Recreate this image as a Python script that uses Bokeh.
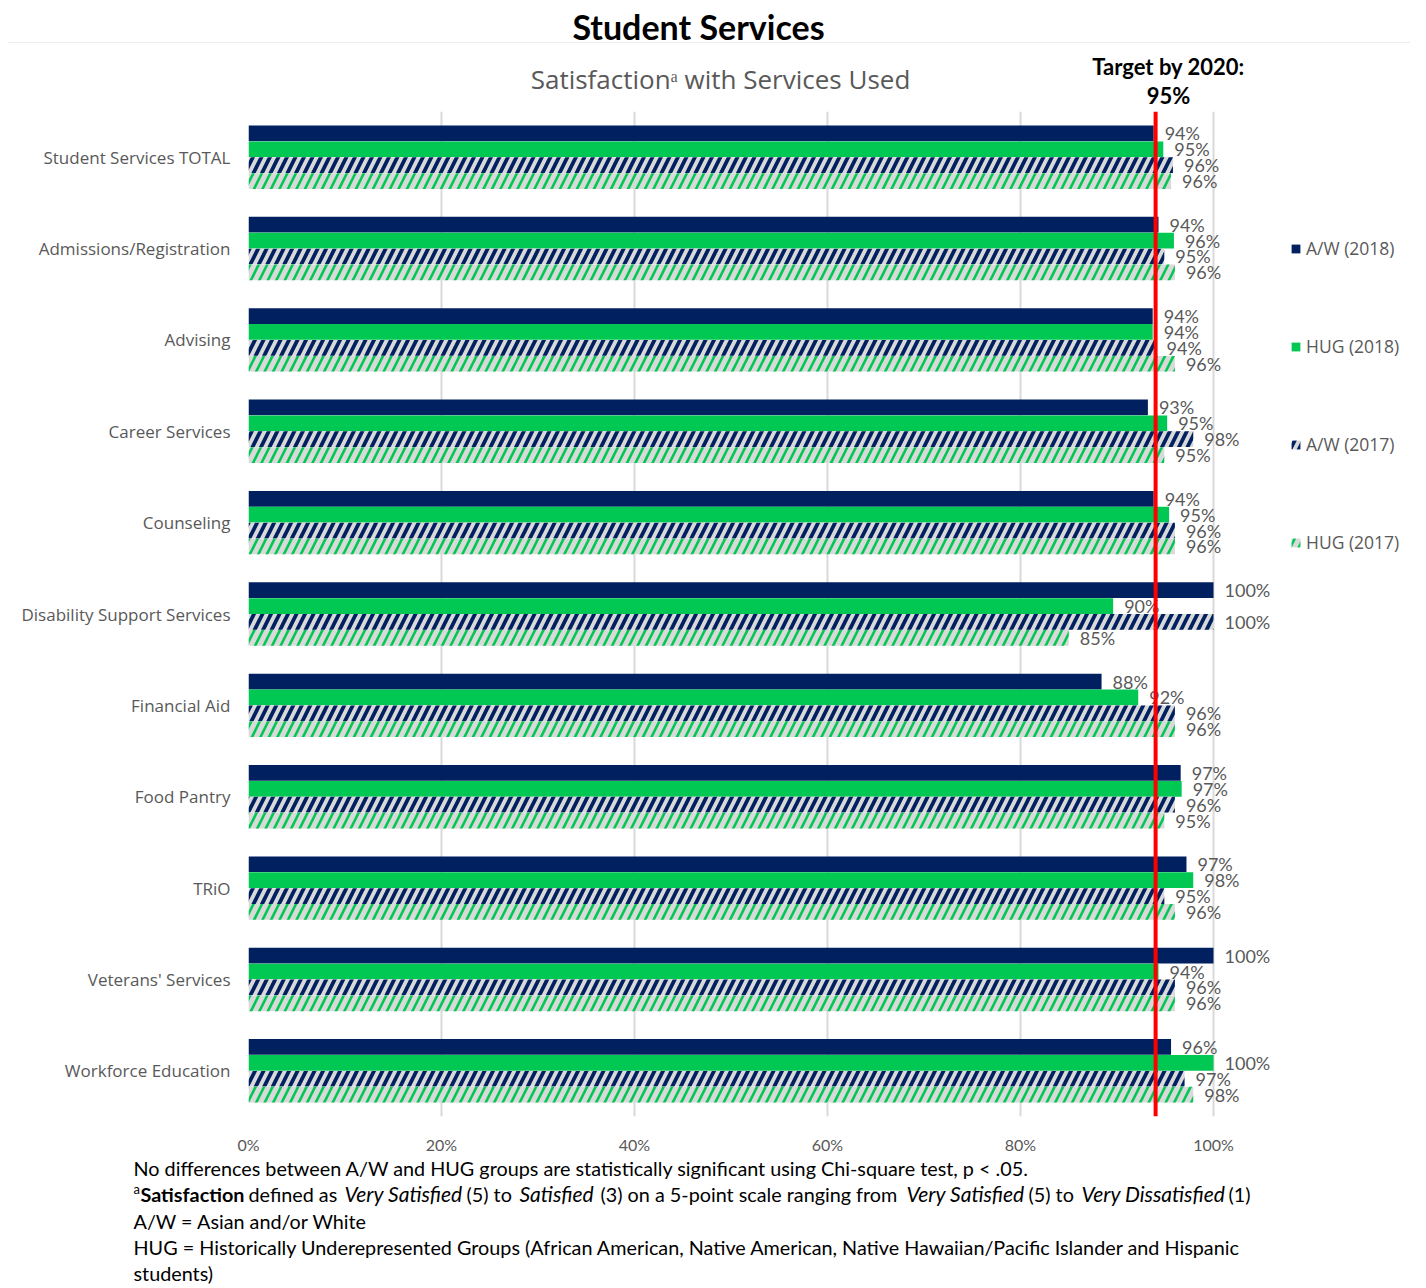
from bokeh.plotting import figure
from bokeh.models import (ColumnDataSource, FixedTicker, Range1d, Span, Label,
                          LabelSet, Legend, LegendItem)
from bokeh.layouts import column, row
from bokeh.core.properties import value
from bokeh.embed import file_html
from bokeh.resources import INLINE

# ---------------- data ----------------
categories = ["Student Services TOTAL", "Admissions/Registration", "Advising",
              "Career Services", "Counseling", "Disability Support Services",
              "Financial Aid", "Food Pantry", "TRiO", "Veterans' Services",
              "Workforce Education"]
aw_2018 = [93.8, 94.3, 93.7, 93.2, 93.8, 100.0, 88.4, 96.6, 97.2, 100.0, 95.6]
hug_2018 = [94.8, 95.9, 93.7, 95.2, 95.4, 89.6, 92.2, 96.7, 97.9, 94.3, 100.0]
aw_2017 = [95.8, 94.9, 94.0, 97.9, 96.0, 100.0, 96.0, 96.0, 94.9, 96.0, 97.0]
hug_2017 = [95.6, 96.0, 96.0, 94.9, 96.0, 85.0, 96.0, 94.9, 96.0, 96.0, 97.9]
series_names = ["A/W (2018)", "HUG (2018)", "A/W (2017)", "HUG (2017)"]
tick_values = [0, 20, 40, 60, 80, 100]
tick_labels = ["0%", "20%", "40%", "60%", "80%", "100%"]
target_line = 94
target_text = ["Target by 2020:", "95%"]
title_text = "Student Services"
subtitle_text = "Satisfaction\u1d43 with Services Used"

# ---------------- style ----------------
NAVY = "#002060"
GREEN = "#00C853"
LGRAY = "#D9D9D9"
TXT = "#595959"
W = 1410
TOP_H, MAIN_H, BOT_H = 108, 1048, 129
BL, BT, BB = 248, 3, 34
XMAX = (W - BL) / 9.65
FN = "19.8px"


def blank(h, y0):
    f = figure(width=W, height=h, output_backend="svg", toolbar_location=None,
               x_range=Range1d(0, W), y_range=Range1d(y0 + h, y0),
               x_axis_type=None, y_axis_type=None, min_border=0,
               min_border_left=0, min_border_right=0, min_border_top=0,
               min_border_bottom=0)
    f.outline_line_color = None
    f.xgrid.visible = False
    f.ygrid.visible = False
    return f


def lab(f, X, Y, text, size=FN, font="Lato", style="normal",
        color="black", align="left"):
    f.add_layout(Label(x=X, y=Y, text=text, text_font=font,
                       text_font_size=size, text_font_style=style,
                       text_color=color, text_align=align,
                       text_baseline="middle"))


# ---------------- header ----------------
top = blank(TOP_H, 0)
top.segment(x0=[8], y0=[42], x1=[W], y1=[42], line_color="#EDEDED", line_width=1)
lab(top, 698, 26, title_text, size="34px", style="bold", align="center")
lab(top, 720, 78, subtitle_text, size="26px", font="Open Sans", color=TXT,
    align="center")
lab(top, 1168, 66, target_text[0], size="22px", style="bold", align="center")
lab(top, 1168, 95, target_text[1], size="22px", style="bold", align="center")

# ---------------- main chart ----------------
p = figure(width=W, height=MAIN_H, output_backend="svg", toolbar_location=None,
           x_range=Range1d(0, XMAX), y_range=Range1d(10.5, -0.5),
           min_border_left=BL, min_border_right=0, min_border_top=BT,
           min_border_bottom=BB)
p.outline_line_color = None

p.xaxis.ticker = FixedTicker(ticks=tick_values)
p.xaxis.major_label_overrides = dict(zip(tick_values, tick_labels))
p.xaxis.axis_line_color = None
p.xaxis.major_tick_line_color = None
p.xaxis.minor_tick_line_color = None
p.xaxis.major_label_text_font = "Lato"
p.xaxis.major_label_text_font_size = "16px"
p.xaxis.major_label_text_color = TXT
p.xaxis.major_label_standoff = 12

ys = list(range(len(categories)))
p.yaxis.ticker = FixedTicker(ticks=ys)
p.yaxis.major_label_overrides = {i: c for i, c in zip(ys, categories)}
p.yaxis.axis_line_color = None
p.yaxis.major_tick_line_color = None
p.yaxis.minor_tick_line_color = None
p.yaxis.major_label_text_font = "Open Sans"
p.yaxis.major_label_text_font_size = "17px"
p.yaxis.major_label_text_color = TXT
p.yaxis.major_label_standoff = 12

p.xgrid.ticker = FixedTicker(ticks=tick_values)
p.xgrid.grid_line_color = LGRAY
p.xgrid.grid_line_width = 2
p.ygrid.visible = False

offsets = [-0.261, -0.087, 0.087, 0.261]
bar_h = 0.172
series = [aw_2018, hug_2018, aw_2017, hug_2017]
styles = [
    dict(fill_color=NAVY),
    dict(fill_color=GREEN),
    dict(fill_color=LGRAY, hatch_pattern="/", hatch_color=NAVY,
         hatch_weight=3.8, hatch_scale=17),
    dict(fill_color=LGRAY, hatch_pattern="/", hatch_color=GREEN,
         hatch_weight=2.6, hatch_scale=17),
]
items = []
for name, vals, off, st in zip(series_names, series, offsets, styles):
    src = ColumnDataSource(dict(y=[i + off for i in ys], v=vals,
                                lab=[f"{v:.0f}%" for v in vals]))
    r = p.hbar(y="y", left=0, right="v", height=bar_h, source=src,
               line_color=None, **st)
    items.append(LegendItem(label=name, renderers=[r]))
    p.add_layout(LabelSet(x="v", y="y", text="lab", source=src, x_offset=11,
                          text_align="left", text_baseline="middle",
                          text_font=value("Lato"), text_font_size="18px",
                          text_color=TXT))

p.add_layout(Span(location=target_line, dimension="height",
                  line_color="#FF0000", line_width=4))

legend = Legend(items=items, location=(1042, 562), orientation="vertical",
                spacing=74, padding=0, margin=0, glyph_width=11,
                glyph_height=11, label_height=20, label_standoff=5,
                label_text_font="Open Sans", label_text_font_size="17.5px",
                label_text_color=TXT, background_fill_alpha=0,
                border_line_color=None)
p.add_layout(legend)

# ---------------- footnotes ----------------
bot = blank(BOT_H, TOP_H + MAIN_H)
lab(bot, 133, 1167, "No differences between A/W and HUG groups are statistically significant using Chi-square test, p < .05.")
lab(bot, 133, 1188, "a", size="13px")
segs = [(140, "Satisfaction", "bold"), (248, "defined as", "normal"),
        (344, "Very Satisfied", "italic"), (466, "(5) to", "normal"),
        (519, "Satisfied", "italic"),
        (600, "(3) on a 5-point scale ranging from", "normal"),
        (906, "Very Satisfied", "italic"), (1028, "(5) to", "normal"),
        (1081, "Very Dissatisfied", "italic"), (1228, "(1)", "normal")]
for X, t, s in segs:
    lab(bot, X, 1193, t, style=s, size="21px" if s == "italic" else FN)
lab(bot, 133, 1220, "A/W = Asian and/or White")
lab(bot, 133, 1246, "HUG = Historically Underepresented Groups (African American, Native American, Native Hawaiian/Pacific Islander and Hispanic")
lab(bot, 133, 1272, "students)")

layout = column(row(top), row(p), row(bot), spacing=0)
open("out.html", "w").write(file_html(layout, INLINE))
